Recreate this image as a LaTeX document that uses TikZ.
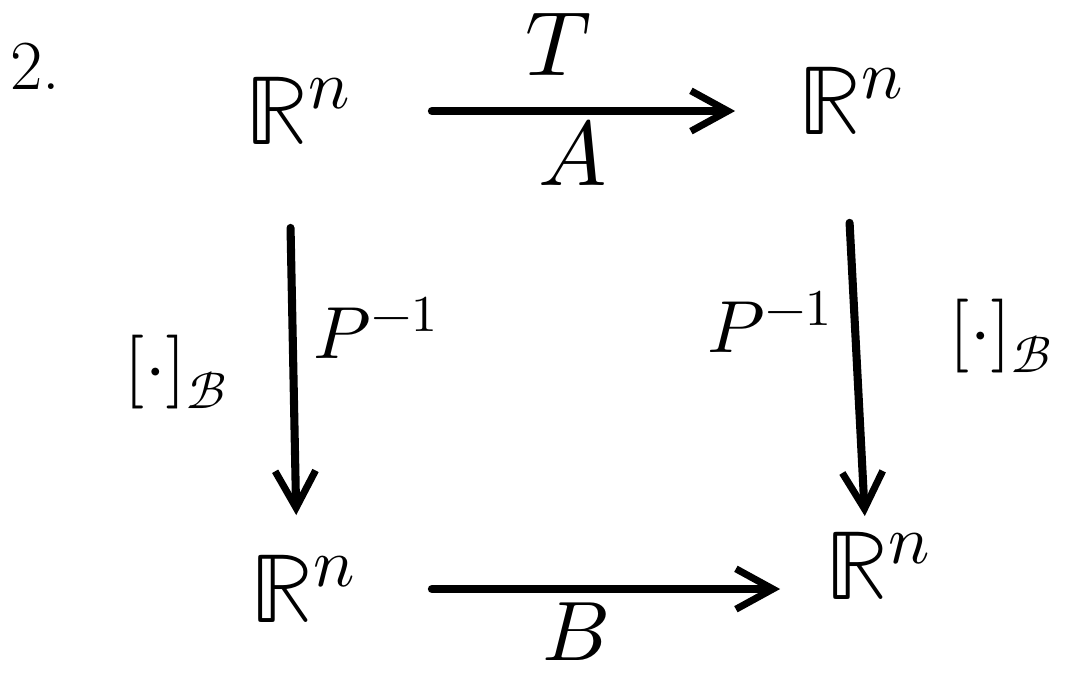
\documentclass[tikz,border=0pt]{standalone}
\usepackage{amsmath}
\usepackage{unicode-math}
\setmathfont{Latin Modern Math}
\usetikzlibrary{arrows.meta,positioning}

\begin{document}
\begin{tikzpicture}[x=0.02cm,y=-0.02cm,font=\fontsize{52}{60}\selectfont,inner sep=0pt]
    \useasboundingbox (0,0) rectangle (1074,681);
    \tikzset{map/.style={line width=4.6pt,line cap=round,-{Straight Barb[length=21pt,width=23pt,line width=4pt]}},
             space/.style={font=\fontsize{56}{60}\selectfont},
             small/.style={font=\fontsize{42}{48}\selectfont}}

    \node[font=\fontsize{40}{44}\selectfont] (num) at (35,66) {2.};

    % spaces
    \node[space] (rn11) at (298,111) {$\mathbb{R}^n$};
    \node[space] (rn12) at (851,101) {$\mathbb{R}^n$};
    \node[space] (rn21) at (303,589) {$\mathbb{R}^n$};
    \node[space] (rn22) at (878,566) {$\mathbb{R}^n$};

    % labels
    \node (lblT) at (559,45) {$T$};
    \node (lblA) at (573,153) {$A$};
    \node[font=\fontsize{48}{52}\selectfont] (lblB) at (576,632) {$B$};
    \node[small] (lblcl) at (176,372) {$[\cdot]_{\mathcal{B}}$};
    \node[small] (lblpl) at (376,328) {$P^{-1}$};
    \node[small] (lblpr) at (770,322) {$P^{-1}$};
    \node[small] (lblcr) at (1001,336) {$[\cdot]_{\mathcal{B}}$};

    % maps
    \draw[map,shorten <=1.62cm,shorten >=1.26cm] (rn11.east) -- (rn12.west |- rn11.east);
    \draw[map,shorten <=1.52cm,shorten >=0.9cm] (rn21.east) -- (rn22.west |- rn21.east);
    \draw[map,shorten <=1.66cm,shorten >=0.8cm] (rn11.-105) -- (rn21.100);
    \draw[map,shorten <=1.76cm,shorten >=0.32cm] (rn12.-100) -- (rn22.110);

\end{tikzpicture}
\end{document}
